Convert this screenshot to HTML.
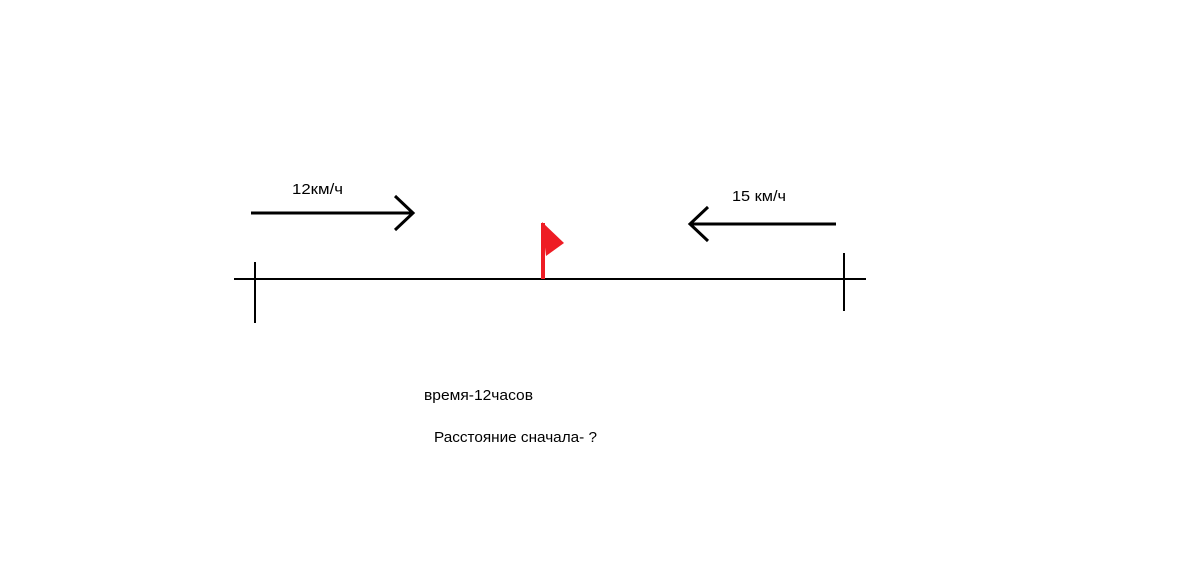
<!DOCTYPE html>
<html><head><meta charset="utf-8"><style>
html,body{margin:0;padding:0;background:#fff;width:1200px;height:573px;overflow:hidden}
svg{display:block}
text{font-family:"Liberation Sans","DejaVu Sans",sans-serif;font-size:15px;fill:#000}
</style></head><body>
<svg width="1200" height="573" viewBox="0 0 1200 573">
<line x1="234" y1="279" x2="866" y2="279" stroke="#000" stroke-width="2"/>
<line x1="255" y1="262" x2="255" y2="323" stroke="#000" stroke-width="2"/>
<line x1="844" y1="253" x2="844" y2="311" stroke="#000" stroke-width="2"/>
<line x1="251" y1="213" x2="413" y2="213" stroke="#000" stroke-width="3"/>
<polyline points="395,196 413,213 395,230" fill="none" stroke="#000" stroke-width="3"/>
<line x1="690" y1="224" x2="836" y2="224" stroke="#000" stroke-width="3"/>
<polyline points="708,207 690,224 708,241" fill="none" stroke="#000" stroke-width="3"/>
<line x1="543" y1="223" x2="543" y2="279" stroke="#ee1c24" stroke-width="4"/>
<polygon points="542,222 564,243 546,256" fill="#ee1c24"/>
<text x="292" y="194" textLength="51" lengthAdjust="spacingAndGlyphs">12км/ч</text>
<text x="732" y="201" textLength="54" lengthAdjust="spacingAndGlyphs">15 км/ч</text>
<text x="424" y="400" textLength="109" lengthAdjust="spacingAndGlyphs">время-12часов</text>
<text x="434" y="442" textLength="163" lengthAdjust="spacingAndGlyphs">Расстояние сначала- ?</text>
</svg>
</body></html>
